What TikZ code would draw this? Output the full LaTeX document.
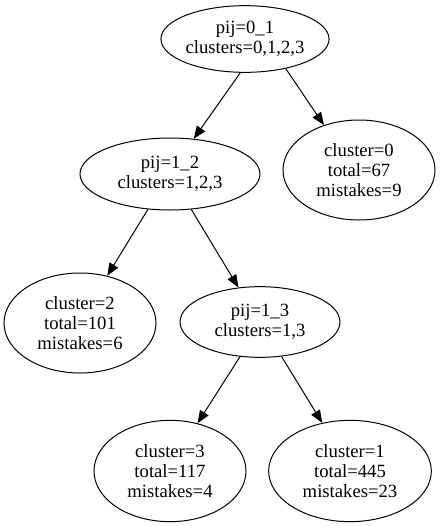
\documentclass[tikz,border=0pt]{standalone}
\usepackage{fontspec}
\setmainfont{Liberation Serif}
\usetikzlibrary{arrows.meta,shapes.geometric}
\begin{document}
\begin{tikzpicture}[x=0.75pt,y=-0.75pt,
  treenode/.style={ellipse,draw,line width=0.75pt,inner sep=0pt,align=center,
    font=\fontsize{14pt}{15pt}\selectfont},
  edge/.style={line width=0.75pt,-{Triangle[length=9.5pt,width=7.5pt]}}]
\useasboundingbox (0,0) rectangle (440,526);
\node[treenode,minimum width=120pt,minimum height=50pt] (root) at (245,39) {pij=0\_1\\clusters=0,1,2,3};
\node[treenode,minimum width=135pt,minimum height=54pt] (p12) at (170,174) {pij=1\_2\\clusters=1,2,3};
\node[treenode,minimum width=114pt,minimum height=75pt] (c0) at (359,170) {cluster=0\\total=67\\mistakes=9};
\node[treenode,minimum width=114pt,minimum height=75pt] (c2) at (80,323) {cluster=2\\total=101\\mistakes=6};
\node[treenode,minimum width=120pt,minimum height=53pt] (p13) at (260,322) {pij=1\_3\\clusters=1,3};
\node[treenode,minimum width=114pt,minimum height=76pt] (c3) at (170,471) {cluster=3\\total=117\\mistakes=4};
\node[treenode,minimum width=122pt,minimum height=76pt] (c1) at (350,471) {cluster=1\\total=445\\mistakes=23};
\draw[edge] (root.-98) -- (p12.56);
\draw[edge] (root.-36) -- (c0.128);
\draw[edge] (p12.-122) -- (c2.60);
\draw[edge] (p12.-59) -- (p13.122);
\draw[edge] (p13.-120) -- (c3.60);
\draw[edge] (p13.-58) -- (c1.120);
\end{tikzpicture}
\end{document}
